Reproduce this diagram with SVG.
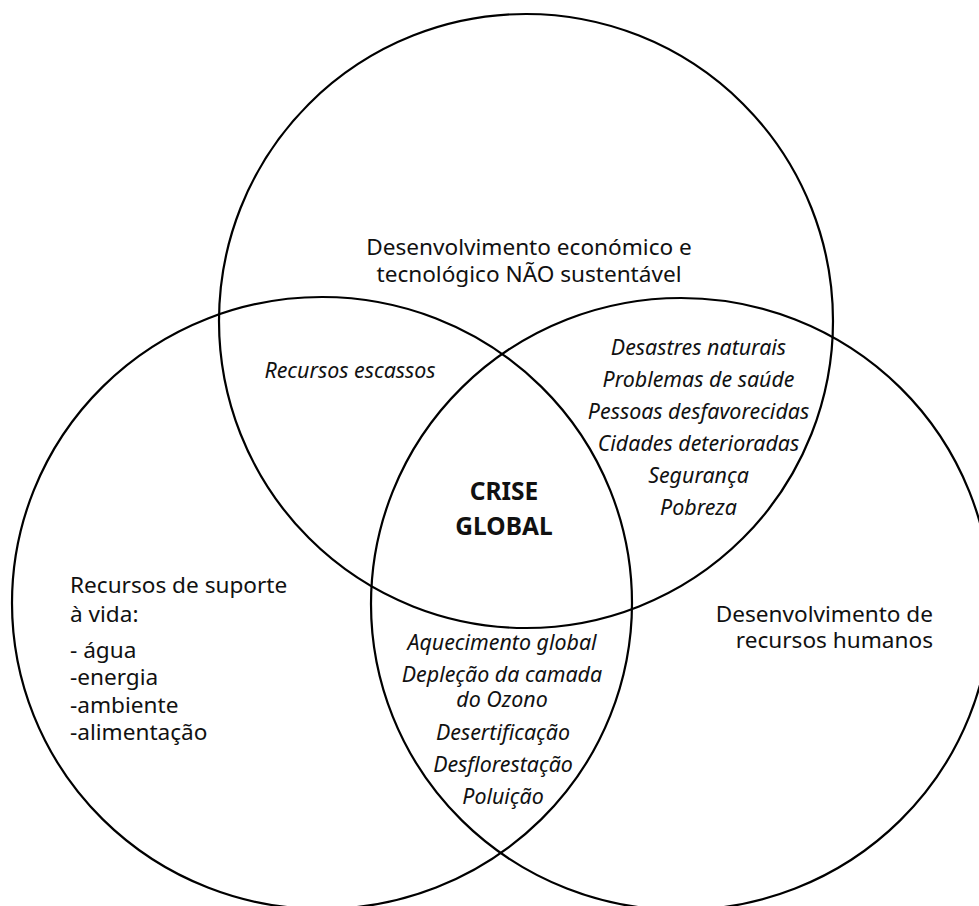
<svg xmlns="http://www.w3.org/2000/svg" width="979" height="906" viewBox="0 0 979 906">
  <style>
    .ring { fill: none; stroke: #000; stroke-width: 2.2; }
    .lbl { font-family: "Noto Sans", "DejaVu Sans", sans-serif; font-size: 22.6px; fill: #111; }
    .it { font-style: italic; font-size: 21.4px; }
    .mid { text-anchor: middle; }
    .end { text-anchor: end; }
    .bold { font-weight: bold; font-size: 24.5px; }
  </style>
  <rect width="979" height="906" fill="#fff"/>

  <!-- the three overlapping sets -->
  <g id="set-economic">
    <ellipse class="ring" cx="526" cy="321" rx="307" ry="307"/>
    <text class="lbl mid" x="529" y="255">Desenvolvimento económico e</text>
    <text class="lbl mid" x="529" y="282">tecnológico NÃO sustentável</text>
  </g>
  <g id="set-resources">
    <ellipse class="ring" cx="322" cy="603" rx="310" ry="306"/>
    <text class="lbl" x="70" y="593">Recursos de suporte</text>
    <text class="lbl" x="70" y="622">à vida:</text>
    <text class="lbl" x="70" y="658">- água</text>
    <text class="lbl" x="70" y="685">-energia</text>
    <text class="lbl" x="70" y="713">-ambiente</text>
    <text class="lbl" x="70" y="740">-alimentação</text>
  </g>
  <g id="set-human">
    <ellipse class="ring" cx="681" cy="604" rx="310" ry="306"/>
    <text class="lbl end" x="933" y="622">Desenvolvimento de</text>
    <text class="lbl end" x="933" y="648">recursos humanos</text>
  </g>

  <!-- overlap regions -->
  <g id="overlap-economic-resources">
    <text class="lbl it mid" x="350" y="378">Recursos escassos</text>
  </g>
  <g id="overlap-economic-human">
    <text class="lbl it mid" x="698.5" y="355">Desastres naturais</text>
    <text class="lbl it mid" x="698.5" y="387">Problemas de saúde</text>
    <text class="lbl it mid" x="698.5" y="419">Pessoas desfavorecidas</text>
    <text class="lbl it mid" x="698.5" y="451">Cidades deterioradas</text>
    <text class="lbl it mid" x="698.5" y="483">Segurança</text>
    <text class="lbl it mid" x="698.5" y="515">Pobreza</text>
  </g>
  <g id="overlap-resources-human">
    <text class="lbl it mid" x="502" y="650">Aquecimento global</text>
    <text class="lbl it mid" x="502" y="682">Depleção da camada</text>
    <text class="lbl it mid" x="502" y="707">do Ozono</text>
    <text class="lbl it mid" x="503" y="740">Desertificação</text>
    <text class="lbl it mid" x="503" y="772">Desflorestação</text>
    <text class="lbl it mid" x="503" y="804">Poluição</text>
  </g>
  <g id="center">
    <text class="lbl bold mid" x="504" y="500">CRISE</text>
    <text class="lbl bold mid" x="504" y="535">GLOBAL</text>
  </g>
</svg>
